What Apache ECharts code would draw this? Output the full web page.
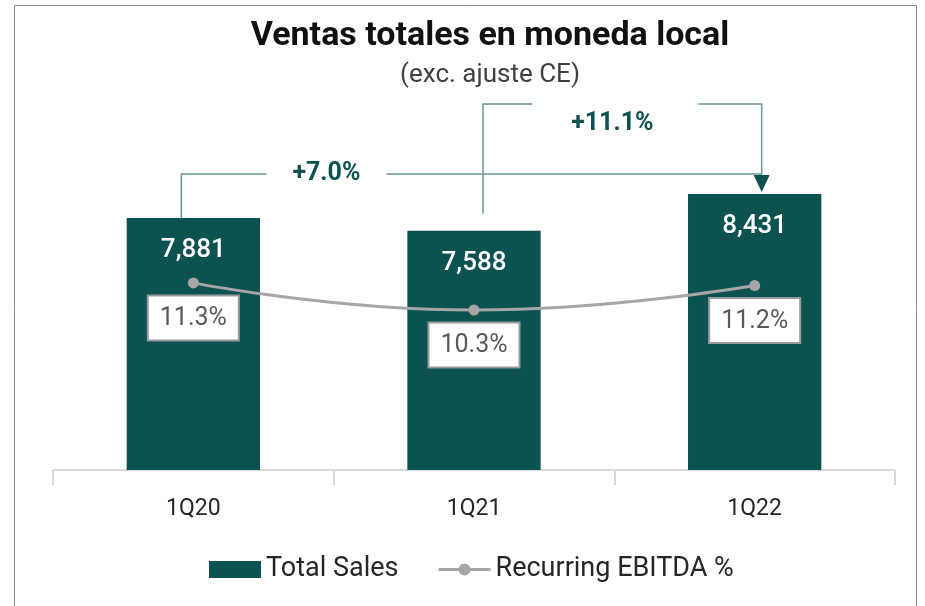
<!DOCTYPE html>
<html>
<head>
<meta charset="utf-8">
<title>Ventas totales en moneda local</title>
<script src="https://cdn.jsdelivr.net/npm/echarts@6/dist/echarts.min.js"></script>
<style>
  html, body { margin: 0; padding: 0; background: #fff; }
  #chart { width: 925px; height: 606px; }
</style>
</head>
<body>
<div id="chart"></div>
<script>
// datos
const categories = ['1Q20', '1Q21', '1Q22'];
const totalSales = [7881, 7588, 8431];
const ebitdaPct = [11.3, 10.3, 11.2];
const growthLabels = ['+7.0%', '+11.1%'];

const teal = '#0c5250';
const bracketColor = '#6a9693';
const font = 'Roboto, "Noto Sans", sans-serif';

// icono de la leyenda para la línea: trazo fino con un punto en el centro
const lineIcon = 'path://M0,4.5L52,4.5L52,7.5L0,7.5Z M20,6A6,6 0 1,1 32,6A6,6 0 1,1 20,6Z';

const chart = echarts.init(document.getElementById('chart'));

const options = {
  textStyle: { fontFamily: font },
  animation: false,
  title: {
    text: 'Ventas totales en moneda local',
    subtext: '(exc. ajuste CE)',
    left: 485,
    textAlign: 'center',
    top: 14,
    itemGap: 9,
    textStyle: { fontSize: 34, fontWeight: 'bold', color: '#111', fontFamily: font },
    subtextStyle: { fontSize: 26, color: '#404040', fontFamily: font }
  },
  grid: { left: 53, right: 30, top: 150, bottom: 136 },
  legend: {
    bottom: 18,
    left: 204,
    itemWidth: 52,
    itemHeight: 17,
    itemGap: 40,
    textStyle: { fontSize: 27, color: '#262626', fontFamily: font },
    data: [
      { name: 'Total Sales', icon: 'rect' },
      { name: 'Recurring EBITDA %', icon: lineIcon }
    ]
  },
  xAxis: {
    type: 'category',
    data: categories,
    axisLine: { lineStyle: { color: '#d9d9d9', width: 2 } },
    axisTick: { show: true, length: 15, lineStyle: { color: '#d9d9d9', width: 2 } },
    axisLabel: { fontSize: 23, color: '#262626', margin: 28 }
  },
  yAxis: [
    { type: 'value', min: 2100, max: 9440, show: false },
    { type: 'value', min: 4.4, max: 16.2, show: false }
  ],
  series: [
    {
      name: 'Total Sales',
      type: 'bar',
      data: totalSales,
      barWidth: '47.5%',
      clip: true,
      itemStyle: { color: teal },
      label: {
        show: true,
        position: 'insideTop',
        distance: 20,
        fontSize: 26,
        fontWeight: 500,
        color: '#fff',
        formatter: p => p.value.toLocaleString('en-US')
      }
    },
    {
      name: 'Recurring EBITDA %',
      type: 'line',
      yAxisIndex: 1,
      data: ebitdaPct,
      smooth: true,
      symbol: 'circle',
      symbolSize: 11,
      lineStyle: { color: '#a6a6a6', width: 3 },
      itemStyle: { color: '#a6a6a6' },
      label: {
        show: true,
        position: 'bottom',
        distance: 8,
        fontSize: 25,
        color: '#595959',
        backgroundColor: '#fff',
        borderColor: '#9a9a9a',
        borderWidth: 2,
        padding: [10, 11, 8, 11],
        formatter: p => p.value.toFixed(1) + '%'
      }
    }
  ]
};

chart.setOption(options);

// flechas de crecimiento, ancladas a la parte superior de las barras
function drawBrackets() {
  const top = totalSales.map((v, i) => chart.convertToPixel({ seriesIndex: 0 }, [i, v]));
  const x0 = top[0][0] - 12;
  const x1 = top[1][0] + 9;
  const x2 = top[2][0] + 7;
  const yA = top[0][1] - 44;   // nivel del +7.0%
  const yB = yA - 70;          // nivel del +11.1%
  const tipY = top[2][1] - 2;
  const lineStyle = { stroke: bracketColor, lineWidth: 1.5 };
  const txtA = x0 + 0.25 * (x2 - x0);
  const txtB = (x1 + x2) / 2 - 10;

  const els = [
    // +7.0%
    { type: 'polyline', shape: { points: [[x0, top[0][1]], [x0, yA], [txtA - 60, yA]] }, style: lineStyle },
    { type: 'line', shape: { x1: txtA + 60, y1: yA, x2: x2, y2: yA }, style: lineStyle },
    { type: 'polygon', shape: { points: [[x2 - 8, yA + 1], [x2 + 8, yA + 1], [x2, tipY]] }, style: { fill: teal } },
    { type: 'text', x: txtA, y: yA, style: { text: growthLabels[0], fontSize: 25, fontWeight: 'bold', fontFamily: font, fill: teal, align: 'center', verticalAlign: 'middle' } },
    // +11.1%
    { type: 'polyline', shape: { points: [[x1, top[1][1] - 17], [x1, yB], [txtB - 80, yB]] }, style: lineStyle },
    { type: 'polyline', shape: { points: [[txtB + 86, yB], [x2, yB], [x2, yA + 1]] }, style: lineStyle },
    { type: 'text', x: txtB, y: yB + 20, style: { text: growthLabels[1], fontSize: 25, fontWeight: 'bold', fontFamily: font, fill: teal, align: 'center', verticalAlign: 'middle' } },
    // marco
    { type: 'rect', shape: { x: 14.5, y: 5.5, width: 902, height: 640 }, style: { fill: 'none', stroke: '#8c8c8c', lineWidth: 1 }, z: -1 }
  ];
  chart.setOption({ graphic: { elements: els } });
}
drawBrackets();

window.addEventListener('resize', () => {
  chart.resize();
  drawBrackets();
});
</script>
</body>
</html>
